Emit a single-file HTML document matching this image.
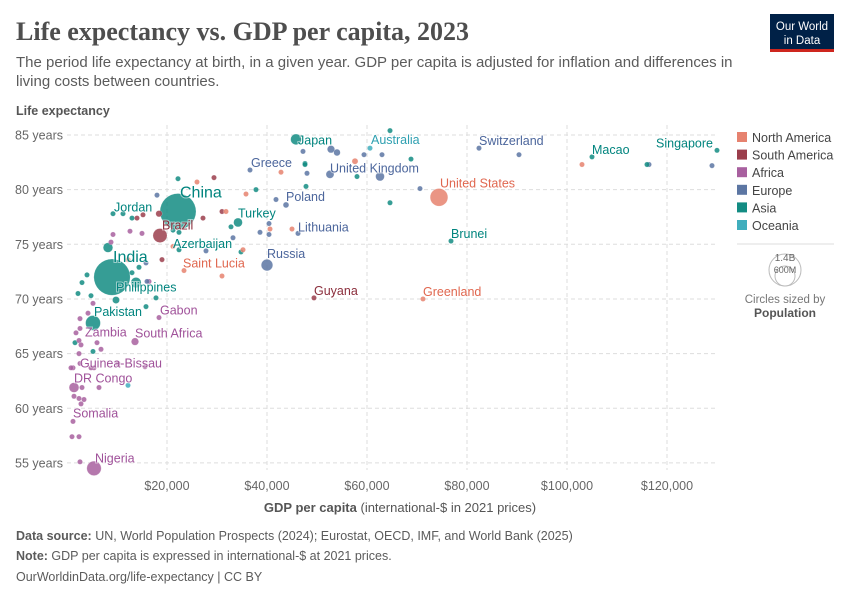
<!DOCTYPE html>
<html><head><meta charset="utf-8"><style>
body{margin:0;background:#fff;font-family:"Liberation Sans",sans-serif}
#wrap{position:relative;width:850px;height:600px;overflow:hidden}
</style></head><body>
<div id="wrap">
<svg id="svg" width="850" height="600" xmlns="http://www.w3.org/2000/svg">
<text x="16" y="40" font-family="Liberation Serif, serif" font-size="26" font-weight="bold" fill="#4e4e4e">Life expectancy vs. GDP per capita, 2023</text>
<text x="16" y="67" font-size="15" fill="#5b5b5b">The period life expectancy at birth, in a given year. GDP per capita is adjusted for inflation and differences in</text>
<text x="16" y="86" font-size="15" fill="#5b5b5b">living costs between countries.</text>
<g><rect x="770" y="14" width="64" height="38" fill="#002147"/><rect x="770" y="49" width="64" height="3" fill="#ce261e"/>
<text x="802" y="30" font-size="11.5" fill="#fff" text-anchor="middle">Our World</text><text x="802" y="44" font-size="11.5" fill="#fff" text-anchor="middle">in Data</text></g>
<text x="16" y="115" font-size="12.5" font-weight="bold" fill="#555">Life expectancy</text>
<g id="grid"></g><g id="marks"></g><g id="labels"></g>
<text x="400" y="512" font-size="13" fill="#555" text-anchor="middle"><tspan font-weight="bold">GDP per capita</tspan> (international-$ in 2021 prices)</text>
<g id="legend"></g>
<g>
<line x1="737" y1="244" x2="834" y2="244" stroke="#ddd"/>
<circle cx="785" cy="270" r="16" fill="none" stroke="#bbb"/><circle cx="785" cy="276" r="10" fill="none" stroke="#bbb"/>
<text x="785" y="261" font-size="10" fill="#666" text-anchor="middle">1.4B</text>
<text x="785" y="273" font-size="9" fill="#666" text-anchor="middle">600M</text>
<text x="785" y="303" font-size="11.5" fill="#777" text-anchor="middle">Circles sized by</text>
<text x="785" y="317" font-size="12" font-weight="bold" fill="#555" text-anchor="middle">Population</text></g>
<g font-size="12.5" fill="#5b5b5b">
<text x="16" y="540"><tspan font-weight="bold">Data source:</tspan> UN, World Population Prospects (2024); Eurostat, OECD, IMF, and World Bank (2025)</text>
<text x="16" y="560"><tspan font-weight="bold">Note:</tspan> GDP per capita is expressed in international-$ at 2021 prices.</text>
<text x="16" y="581">OurWorldinData.org/life-expectancy | CC BY</text></g>
</svg></div>
<script>
const regionNames=["North America","South America","Africa","Europe","Asia","Oceania"];
const regionColors=["#e6826f","#9b3e4c","#a8609f","#5c76a3","#138c83","#40aebd"];
const yTicks=[55,60,65,70,75,80,85];
const xTicks=[20000,40000,60000,80000,100000,120000];
const xTickLabels=["$20,000","$40,000","$60,000","$80,000","$100,000","$120,000"];
const names=["Japan","Australia","Switzerland","Macao","Singapore","Greece","United Kingdom","United States","China","Brazil","Jordan","Turkey","Poland","Lithuania","Azerbaijan","Saint Lucia","Russia","Guyana","Greenland","Brunei","India","Philippines","Pakistan","Zambia","South Africa","Gabon","Guinea-Bissau","DR Congo","Somalia","Nigeria",
"","","","","","","","","","","","","","","","","","","","","","","","","","","","","",
"","","","","","","","","","","","","","","","","","","","",
"","","","","","","",
"","","","","","","","","","","","",
"","","","","","","","","","","","","","","","","","","","","","","","","","","","",""];
const gdp=[45.8,60.6,82.4,105,130,36.6,52.6,74.4,22.2,18.6,9.2,34.2,43.8,46.2,22.4,23.4,40,49.4,71.2,76.8,9.0,13.8,5.2,2.6,13.6,18.4,2.4,1.4,1.2,5.4,
22.2,37.8,47.6,47.8,32.8,34.8,11.2,13,4,3,4.8,2.2,9.8,13,14.4,17.8,15.8,1.6,5.2,12.2,22.4,21.2,8.2,64.6,58,68.8,64.6,47.6,116,
129,116.4,90.4,59.4,63,52.8,54,47.2,48,62.6,70.6,18,41.8,40.4,38.6,40.4,33.2,27.8,15.8,16,
29.4,31,27.2,19,15.2,18.4,14,
57.6,103,45,26,31.8,35.8,42.8,40.6,35.2,31,21.2,12.2,
12.6,15,8.8,9.2,16.4,5.2,4.2,2.6,1.8,2.4,2.8,6,6.8,5.4,4.8,1.2,0.8,2.6,10.2,15.6,3,6.4,1.4,3.4,2.4,2.8,1,2.4,2.6];
const life=[84.6,83.8,83.8,83.0,83.6,81.8,81.4,79.3,78.0,75.8,77.8,77.0,78.6,76.0,74.5,72.6,73.1,70.1,70.0,75.3,72.0,71.5,67.8,67.3,66.1,68.3,65.0,61.9,58.8,54.5,
81.0,80.0,82.4,80.3,76.6,74.3,77.8,77.4,72.2,71.5,70.3,70.5,69.9,72.4,72.9,70.1,69.3,66.0,65.2,62.1,76.1,76.3,74.7,85.4,81.2,82.8,78.8,82.3,82.3,
82.2,82.3,83.2,83.2,83.2,83.7,83.4,83.5,81.5,81.2,80.1,79.5,79.1,76.9,76.1,75.9,75.6,74.4,73.3,71.6,
81.1,78.0,77.4,73.6,77.7,77.8,77.4,
82.6,82.3,76.4,80.7,78.0,79.6,81.6,76.4,74.5,72.1,74.8,73.6,
76.2,76.0,75.2,75.9,71.6,69.6,68.7,68.2,66.9,66.2,65.8,66.0,65.4,63.7,63.7,63.7,63.7,64.1,64.1,63.8,61.9,61.9,61.1,60.8,60.9,60.4,57.4,57.4,55.1];
const pop=[124,27,9,0.7,6,10,69,340,1410,216,11,85,37,3,10,0.2,144,0.8,0.06,0.45,1430,115,240,20,60,2.4,2,105,18,225,
3,5,5,5,20,5,4,8,4,3,3,3,55,10,5,3,3,3,3,2,4,4,100,3,3,3,5,3,4,
5,5,5,4,4,60,48,10,3,84,3,3,3,3,3,3,3,3,3,3,
3,6,8,3,10,45,4,
40,3,4,3,3,3,3,3,3,3,3,3,
3,10,10,3,30,3,3,10,3,3,3,5,10,10,3,3,3,3,3,3,3,8,3,3,3,3,3,3,3];
const region=[4,5,3,4,4,3,3,0,4,1,4,4,3,3,4,0,3,1,0,4,4,4,4,2,2,2,2,2,2,2,
4,4,4,4,4,4,4,4,4,4,4,4,4,4,4,4,4,4,4,5,4,4,4,4,4,4,4,4,4,
3,3,3,3,3,3,3,3,3,3,3,3,3,3,3,3,3,3,3,3,
1,1,1,1,1,1,1,
0,0,0,0,0,0,0,0,0,0,0,0,
2,2,2,2,2,2,2,2,2,2,2,2,2,2,2,2,2,2,2,2,2,2,2,2,2,2,2,2,2];
const labelOffsets={"Japan":[2,5],"Australia":[1,-4],"Switzerland":[0,-3],"Macao":[0,-3],"Singapore":[-4,-3],"Greece":[1,-3],"United Kingdom":[0,-2],"United States":[1,-10],"China":[2,-14],"Brazil":[2,-6],"Jordan":[1,-2],"Turkey":[0,-5],"Poland":[0,-4],"Lithuania":[0,-2],"Azerbaijan":[-6,-2],"Saint Lucia":[-1,-3],"Russia":[0,-7],"Guyana":[0,-3],"Greenland":[0,-3],"Brunei":[0,-3],"India":[1,-15],"Philippines":[-20,9],"Pakistan":[1,-7],"Zambia":[5,8],"South Africa":[0,-4],"Gabon":[1,-3],"Guinea-Bissau":[1,14],"DR Congo":[0,-5],"Somalia":[0,-4],"Nigeria":[1,-6]};
const labelColors=["#e0674f","#8b2e3c","#a0529a","#4c669c","#00847e","#2ea0b1"];
const NS="http://www.w3.org/2000/svg";
const X=v=>67+(v/20000)*100;
const Y=v=>135+(85-v)*10.93;
function mk(tag,attrs,parent){const e=document.createElementNS(NS,tag);for(const k in attrs)e.setAttribute(k,attrs[k]);parent.appendChild(e);return e;}
const grid=document.getElementById('grid');
yTicks.forEach(t=>{
 const l=mk('line',{x1:67,x2:718,y1:Y(t),y2:Y(t),stroke:'#ddd','stroke-dasharray':'4,3'},grid);
 
 
 const tx=mk('text',{x:63,y:Y(t)+4.5,'font-size':12.5,fill:'#666','text-anchor':'end'},grid);
 tx.textContent=t+' years';
 
 
});
xTicks.forEach((t,i)=>{
 const l=mk('line',{x1:X(t),x2:X(t),y1:125,y2:470,stroke:'#ddd','stroke-dasharray':'4,3'},grid);
 
 
 const tx=mk('text',{x:X(t),y:490,'font-size':12.5,fill:'#666','text-anchor':'middle'},grid);
 tx.textContent=xTickLabels[i];
 
 
});
const marks=document.getElementById('marks'),labels=document.getElementById('labels');
const order=gdp.map((_,i)=>i).sort((a,b)=>pop[b]-pop[a]);
order.forEach(i=>{
 const r=Math.max(2.6,0.48*Math.sqrt(pop[i]));
 const c=mk('circle',{cx:X(gdp[i]*1000),cy:Y(life[i]),r:r,fill:regionColors[region[i]],'fill-opacity':0.85,stroke:'#fff','stroke-opacity':0.4,'stroke-width':0.5},marks);
 
 
});
names.forEach((n,i)=>{
 if(!n)return;
 const o=labelOffsets[n]||[2,-4];
 const big=(n==='China'||n==='India');
 const t=mk('text',{x:X(gdp[i]*1000)+o[0],y:Y(life[i])+o[1],'font-size':big?16:12.5,fill:labelColors[region[i]],'text-anchor':n==='Singapore'?'end':'start',stroke:'#fff','stroke-width':2,'stroke-opacity':0.5,'paint-order':'stroke'},labels);
 t.textContent=n;
 
 
});
const lg=document.getElementById('legend');
regionNames.forEach((n,i)=>{
 const g=mk('g',{},lg);
 
 
 mk('rect',{x:737,y:132+i*17.6,width:10,height:10,fill:regionColors[i]},g);
 const t=mk('text',{x:752,y:142+i*17.6,'font-size':12.5,fill:'#444'},g);
 t.textContent=n;
});
</script>
</body></html>
